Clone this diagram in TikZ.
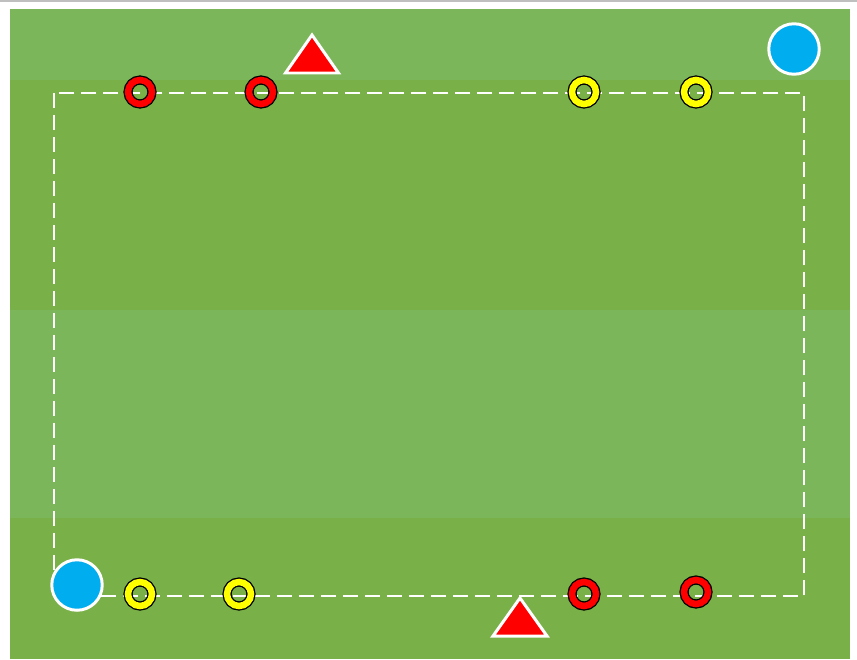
\documentclass[tikz,border=0pt]{standalone}
\usepackage{xcolor}
\usetikzlibrary{positioning}

\definecolor{grassL}{HTML}{7CB65A}
\definecolor{grassD}{HTML}{79B047}
\definecolor{ballblue}{HTML}{00AEEF}
\definecolor{conered}{HTML}{FF0000}
\definecolor{ringyel}{HTML}{FFFF00}

\begin{document}
\begin{tikzpicture}[x={(0.02cm,0)},y={(0,-0.02cm)},
  ring/.style={circle,draw=black,double=#1,double distance=0.13cm,line width=0.75pt,
    minimum size=0.48cm,inner sep=0pt},
  ball/.style={circle,fill=ballblue,draw=white,line width=1.7pt,minimum size=1.01cm,inner sep=0pt},
  cone/.style={fill=conered,draw=white,line width=1.7pt},
  zone/.style={draw=white,line width=1.1pt,dash pattern=on 0.3cm off 0.14cm}]
\useasboundingbox (0,0) rectangle (857,659);
\fill[white] (0,0) rectangle (857,659);
\fill[black!25] (0,0) rectangle (857,2);
% pitch bands
\fill[grassL] (10,9) rectangle (850,80);
\fill[grassD] (10,80) rectangle (850,310);
\fill[grassL] (10,310) rectangle (850,518);
\fill[grassD] (10,518) rectangle (850,659);
% playing area
\coordinate (za) at (54,93);
\coordinate (zb) at (804,596);
\draw[zone] (za) rectangle (zb);
% rings, top
\node[ring=conered] (rt1) at (140,92) {};
\node[ring=conered] (rt2) at (261,92) {};
\node[ring=ringyel] (yt1) at (584,92) {};
\node[ring=ringyel] (yt2) at (696,92) {};
% rings, bottom
\node[ring=ringyel] (yb1) at (140,594) {};
\node[ring=ringyel] (yb2) at (239,594) {};
\node[ring=conered] (rb1) at (584,594) {};
\node[ring=conered] (rb2) at (696,592) {};
% balls
\node[ball] (bt) at (794,49) {};
\node[ball] (bb) at (77,585) {};
% cones
\draw[cone] (312,35) -- (338.5,73) -- (285.5,73) -- cycle;
\draw[cone] (520,598) -- (547,636) -- (493,636) -- cycle;
\end{tikzpicture}
\end{document}
